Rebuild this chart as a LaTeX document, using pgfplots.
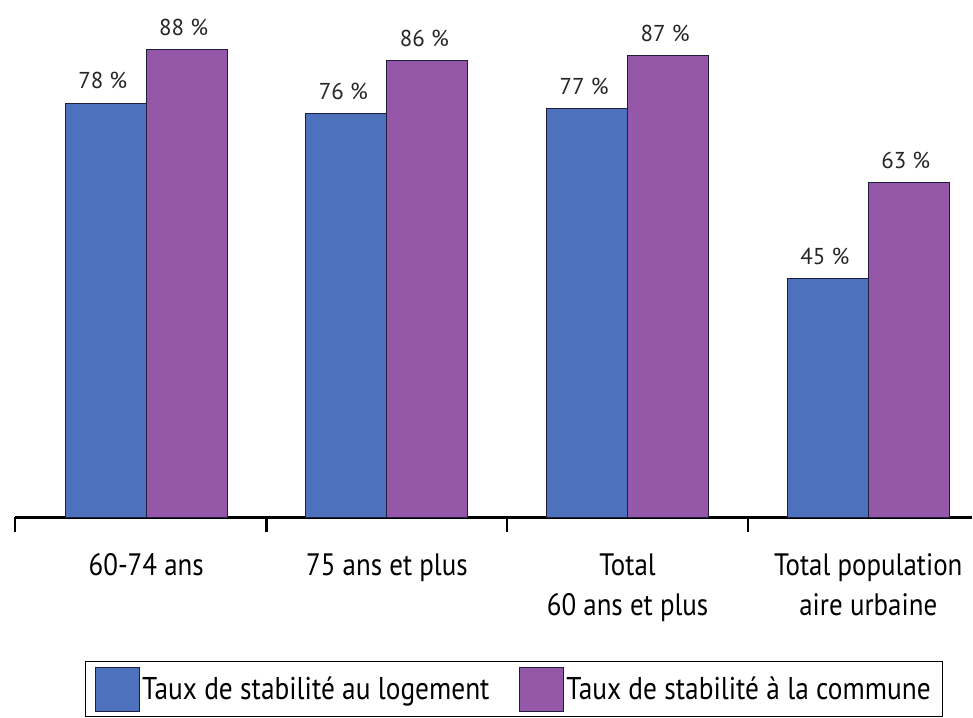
\documentclass[border=0pt]{standalone}
\usepackage{pgfplots}
\pgfplotsset{compat=1.18}
\usepackage{fontspec}
\setmainfont{PT Sans}
\newfontfamily\condfont{PT Sans}[FakeStretch=0.87]
\definecolor{bleu}{RGB}{78,113,190}
\definecolor{violet}{RGB}{149,87,167}
\definecolor{bord}{RGB}{30,30,60}
\begin{document}
\begin{tikzpicture}
\begin{axis}[
    scale only axis,
    width=958pt, height=518pt,
    ybar=0pt, bar width=81pt,
    xmin=-0.545, xmax=3.43,
    ymin=0, ymax=97.4,
    axis x line*=bottom, axis y line=none,
    x axis line style={line width=2.4pt, -},
    xtick={0,1,2,3},
    xticklabels={60-74 ans, 75 ans et plus, Total\\60 ans et plus, Total population\\aire urbaine},
    xticklabel style={align=center, font=\condfont\fontsize{31}{40}\selectfont, yshift=-33pt},
    major tick length=0pt,
    extra x ticks={-0.545,0.5,1.5,2.5},
    extra x tick labels={},
    extra x tick style={major tick length=15pt, tick align=outside, tick style={line width=2.4pt, black}},
    /pgf/number format/assume math mode=true,
    nodes near coords={\pgfmathprintnumber{\pgfplotspointmeta}~\%},
    every node near coord/.append style={font=\fontsize{23}{25}\selectfont, black!85, yshift=10pt, xshift=-3pt},
    legend columns=2,
    legend style={at={(0.5215,-0.278)}, anchor=north, draw=black, line width=1.2pt,
        font=\condfont\fontsize{31.5}{34}\selectfont, inner xsep=10pt, inner ysep=5pt,
        /tikz/every even column/.append style={column sep=28pt}},
    legend image code/.code={\draw[#1, line width=1pt] (0pt,-22pt) rectangle (44pt,22pt);},
]
\addplot[fill=bleu, draw=bord, line width=1pt] coordinates {(0,78) (1,76) (2,77) (3,45)};
\addplot[fill=violet, draw=bord, line width=1pt] coordinates {(0,88) (1,86) (2,87) (3,63)};
\legend{Taux de stabilité au logement, Taux de stabilité à la commune}
\end{axis}
\path ([xshift=-15pt]current axis.north west) (current axis.north east);
\end{tikzpicture}
\end{document}
